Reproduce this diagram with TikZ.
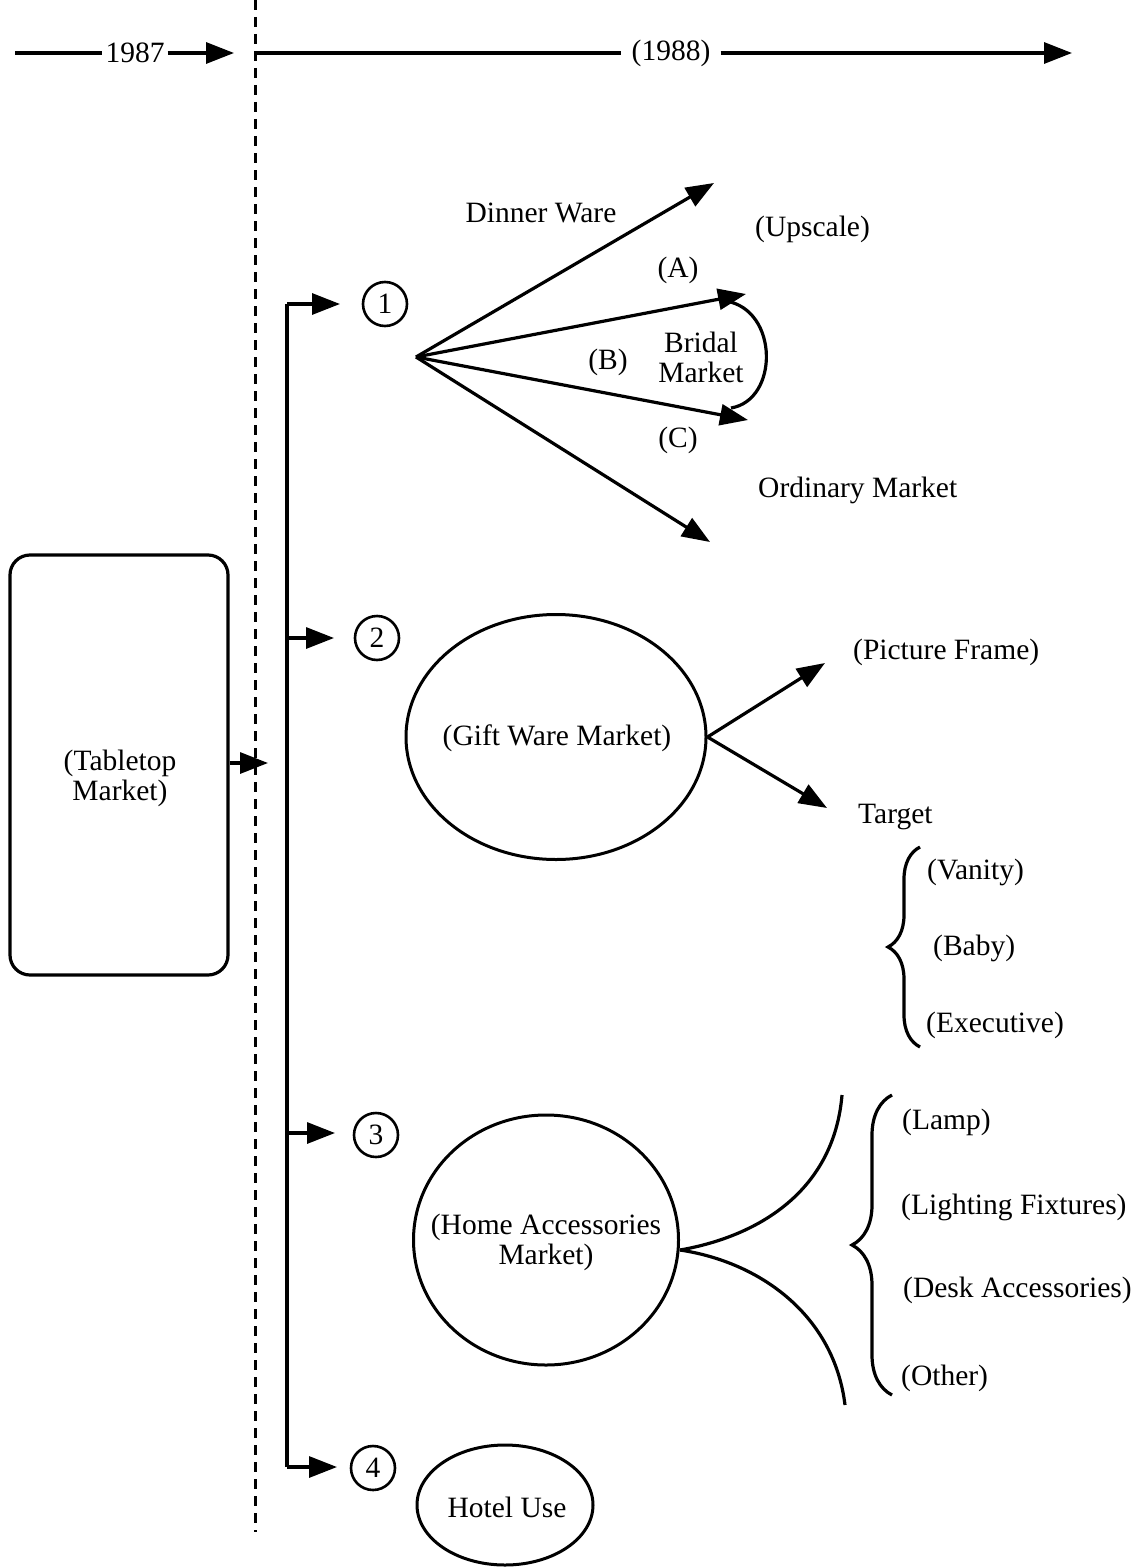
\documentclass[tikz,border=0pt]{standalone}
\usepackage{fontspec}
\setmainfont{Liberation Serif}
\usetikzlibrary{arrows.meta,decorations.pathreplacing,shapes.geometric}
\begin{document}
\begin{tikzpicture}[x=1pt,y=-1pt,
  every node/.style={font=\fontsize{29.5}{30}\selectfont, inner sep=0pt},
  ln/.style={line width=3.2pt},
  arr/.style={ln,-{Triangle[length=28pt,width=21pt]}},
  timeline/.style={line width=3pt, dash pattern=on 10pt off 7pt},
  num/.style={circle,draw,line width=2.6pt,minimum size=44pt},
  oval/.style={ellipse,draw,line width=3pt},
  lbl/.style={anchor=west},
  brc/.style={ln, decorate, decoration={brace,amplitude=#1}},
]
\fill[white] (0,0) rectangle (1147,1568);
\useasboundingbox (0,0) rectangle (1147,1568);

% time axis
\coordinate (t0) at (15,53);
\node (y87) at (135,53) {1987};
\coordinate (t1) at (234,53);
\draw[ln] (t0) -- ([xshift=-3pt]y87.west);
\draw[arr] ([xshift=3pt]y87.east) -- (t1);
\coordinate (t2) at (257,53);
\node (y88) at (671,53) {(1988)};
\coordinate (t3) at (1072,53);
\draw[ln] (t2) -- ([xshift=-10pt]y88.west);
\draw[arr] ([xshift=10pt]y88.east) -- (t3);

% dividing line between the years
\coordinate (d0) at (255,0);
\coordinate (d1) at (255,1532);
\draw[timeline] (d0) -- (d1);

% tabletop market
\node[draw, ln, rounded corners=20pt, minimum width=218pt, minimum height=420pt] (tab) at (119,765) {};
\node[align=center] (tabtxt) at (120,778) {(Tabletop\\Market)};
\coordinate (tabtip) at (268,763);
\draw[arr] (tab.east |- tabtip) -- (tabtip);

% spine and branches
\coordinate (b1) at (287,304);
\coordinate (b2) at (287,638);
\coordinate (b3) at (287,1133);
\coordinate (b4) at (287,1467);
\coordinate (p1) at (340,304);
\coordinate (p2) at (334,638);
\coordinate (p3) at (335,1133);
\coordinate (p4) at (337,1467);
\draw[ln] (b1) -- (b4);
\foreach \i in {1,2,3,4} \draw[arr] (b\i) -- (p\i);
\node[num] (c1) at (385,304) {1};
\node[num] (c2) at (377,638) {2};
\node[num] (c3) at (376,1135) {3};
\node[num] (c4) at (373,1468) {4};

% 1: dinner ware fan
\coordinate (f0) at (416,357);
\coordinate (fd) at (714,183);
\coordinate (fa) at (746,294);
\coordinate (fc) at (748,420);
\coordinate (fo) at (710,542);
\foreach \t in {fd,fa,fc,fo} \draw[arr] (f0) -- (\t);
\node (dw) at (541,213) {Dinner Ware};
\node (la) at (678,270) {(A)};
\node[align=center] (bm) at (701,357) {Bridal\\Market};
\node (lb) at (608,362) {(B)};
\node (lc) at (678,440) {(C)};
\node[lbl] (ups) at (755,229) {(Upscale)};
\node[lbl] (ord) at (758,490) {Ordinary Market};
\coordinate (ca) at (726,301);
\coordinate (cc) at (731,408);
\draw[ln] (ca) .. controls (779,310) and (779,400) .. (cc);

% 2: gift ware
\node[oval, minimum width=300pt, minimum height=245pt] (gift) at (556,737) {};
\node (gifttxt) at (557,738) {(Gift Ware Market)};
\coordinate (gp) at (825,663);
\coordinate (gt) at (827,808);
\draw[arr] (gift.east) -- (gp);
\draw[arr] (gift.east) -- (gt);
\node[lbl] (pf) at (853,652) {(Picture Frame)};
\node[lbl] (tg) at (858,817) {Target};
\coordinate (ba1) at (920,1047);
\coordinate (ba2) at (920,847);
\draw[brc=32pt] (ba1) -- (ba2);
\node[lbl] (van) at (927,872) {(Vanity)};
\node[lbl] (bab) at (933,948) {(Baby)};
\node[lbl] (exe) at (926,1025) {(Executive)};

% 3: home accessories
\node[oval, minimum width=265pt, minimum height=250pt] (home) at (546,1240) {};
\node[align=center] (hometxt) at (546,1242) {(Home Accessories\\Market)};
\coordinate (hj) at (680,1250);
\coordinate (hu) at (842,1095);
\coordinate (hl) at (845,1405);
\draw[ln] (hj) .. controls (760,1236) and (834,1190) .. (hu);
\draw[ln] (hj) .. controls (760,1262) and (834,1315) .. (hl);
\coordinate (bb1) at (892,1395);
\coordinate (bb2) at (892,1095);
\draw[brc=40pt] (bb1) -- (bb2);
\node[lbl] (lamp) at (902,1122) {(Lamp)};
\node[lbl] (lfix) at (901,1207) {(Lighting Fixtures)};
\node[lbl] (desk) at (903,1290) {(Desk Accessories)};
\node[lbl] (oth) at (901,1378) {(Other)};

% 4: hotel use
\node[oval, minimum width=176pt, minimum height=120pt] (hotel) at (505,1505) {};
\node (hoteltxt) at (507,1507) {Hotel Use};
\end{tikzpicture}
\end{document}
